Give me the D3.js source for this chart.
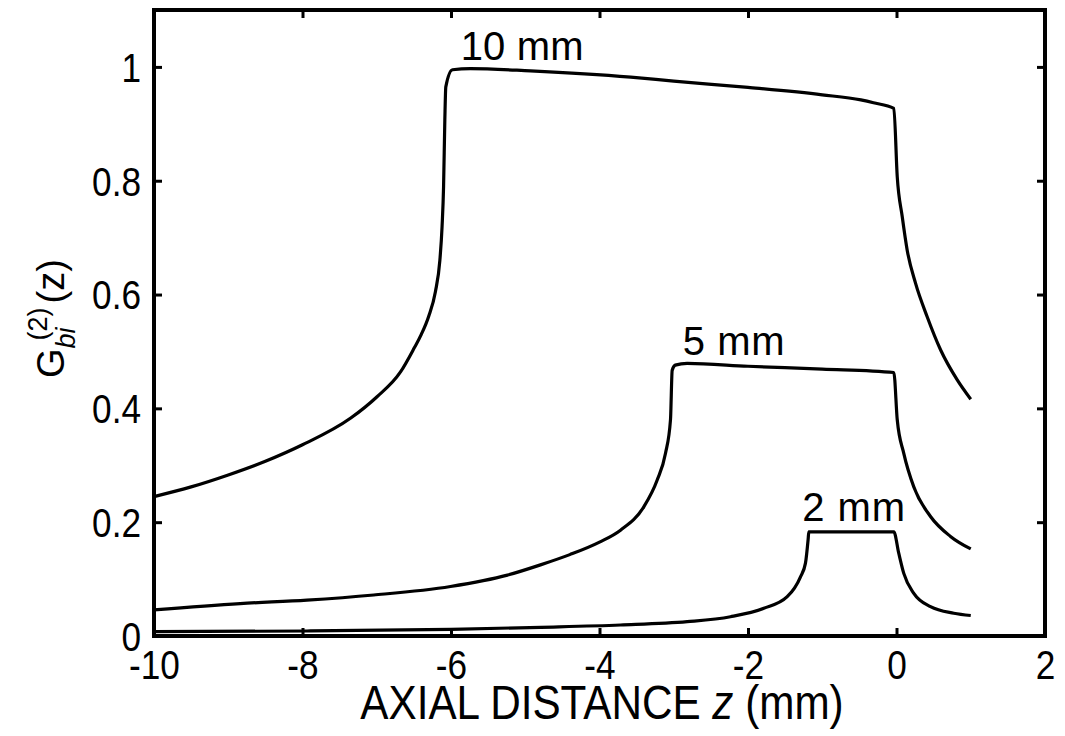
<!DOCTYPE html>
<html>
<head>
<meta charset="utf-8">
<script src="https://cdn.jsdelivr.net/npm/d3@7/dist/d3.min.js"></script>
<style>
  html, body { margin: 0; padding: 0; background: #fff; }
  svg { display: block; font-family: "Liberation Sans", Arial, Helvetica, sans-serif; }
</style>
</head>
<body>
<svg id="chart" width="1065" height="736"></svg>
<script>
// ---- data ----
const xTicks = [-10, -8, -6, -4, -2, 0, 2];
const xTickLabels = ["-10", "-8", "-6", "-4", "-2", "0", "2"];
const yTicks = [0, 0.2, 0.4, 0.6, 0.8, 1];
const yTickLabels = ["0", "0.2", "0.4", "0.6", "0.8", "1"];

const seriesNames = ["10 mm", "5 mm", "2 mm"];

const z10 = [-10, -9.5, -9, -8.5, -8.0, -7.35, -7.0, -6.68, -6.5, -6.4, -6.3, -6.21, -6.15, -6.12, -6.1, -6.083, -6.07, -5.98, -5.74, -4.93, -3.58, -3, -2, -1, -0.48, -0.31, -0.036, 0.01, 0.077, 0.144, 0.256, 0.413, 0.593, 0.818, 1.0];
const g10 = [0.245, 0.262, 0.283, 0.307, 0.336, 0.383, 0.420, 0.464, 0.505, 0.530, 0.562, 0.605, 0.660, 0.720, 0.790, 0.907, 0.965, 0.995, 0.997, 0.993, 0.982, 0.975, 0.964, 0.951, 0.942, 0.937, 0.927, 0.807, 0.737, 0.678, 0.620, 0.561, 0.503, 0.450, 0.416];

const z5 = [-10, -8.84, -7.94, -7.04, -6.007, -5.24, -4.795, -4.4, -4.0, -3.717, -3.403, -3.223, -3.111, -3.044, -3.021, -2.98, -2.82, -2, -1, -0.036, 0.01, 0.098, 0.233, 0.458, 0.727, 1.0];
const g5 = [0.046, 0.057, 0.063, 0.072, 0.087, 0.107, 0.125, 0.143, 0.165, 0.186, 0.227, 0.274, 0.321, 0.380, 0.467, 0.476, 0.479, 0.474, 0.469, 0.463, 0.380, 0.321, 0.262, 0.210, 0.175, 0.153];

const z2 = [-10, -7.94, -6.0, -4.79, -3.717, -2.819, -2.236, -1.787, -1.472, -1.293, -1.226, -1.19, -1.181, -0.036, 0.031, 0.098, 0.233, 0.458, 0.772, 1.0];
const g2 = [0.0076, 0.0088, 0.0117, 0.0153, 0.0193, 0.0251, 0.0339, 0.0487, 0.069, 0.104, 0.128, 0.170, 0.183, 0.183, 0.145, 0.110, 0.075, 0.0515, 0.040, 0.036];

// label anchor points (data coordinates) for series annotations
const labelZ = [-5.87, -2.88, -1.27];
const labelG = [1.013, 0.494, 0.2015];
const labelWidths = [123, 102, 103];

// ---- layout ----
const svg = d3.select("#chart");
const mLeft = 154, mRight = 1045, mTop = 10, mBottom = 636;
const x = d3.scaleLinear().domain([-10, 2]).range([mLeft, mRight]);
const y = d3.scaleLinear().domain([0, 1.1]).range([mBottom, mTop]);
const SX = 0.88; // horizontal glyph compression seen in reference

// lines
const line = d3.line().x(d => x(d[0])).y(d => y(d[1])).curve(d3.curveMonotoneX);
const series = [
  d3.zip(z10, g10),
  d3.zip(z5, g5),
  d3.zip(z2, g2)
];
svg.append("g").selectAll("path").data(series).join("path")
  .attr("d", line)
  .attr("fill", "none")
  .attr("stroke", "#000")
  .attr("stroke-width", 3.2)
  .attr("stroke-linejoin", "round");

// axes with inward ticks
const tickLen = 8;
const axB = svg.append("g").attr("transform", `translate(0,${mBottom})`)
  .call(d3.axisBottom(x).tickValues(xTicks).tickSize(-tickLen).tickPadding(0)
    .tickFormat((d, i) => xTickLabels[i]));
const axT = svg.append("g").attr("transform", `translate(0,${mTop})`)
  .call(d3.axisTop(x).tickValues(xTicks).tickSize(-tickLen).tickFormat(""));
const axL = svg.append("g").attr("transform", `translate(${mLeft},0)`)
  .call(d3.axisLeft(y).tickValues(yTicks).tickSize(-tickLen).tickPadding(0)
    .tickFormat((d, i) => yTickLabels[i]));
const axR = svg.append("g").attr("transform", `translate(${mRight},0)`)
  .call(d3.axisRight(y).tickValues(yTicks).tickSize(-tickLen).tickFormat(""));

[axB, axT, axL, axR].forEach(a => {
  a.select(".domain").remove();
  a.selectAll(".tick line").attr("stroke", "#000").attr("stroke-width", 3);
});
axB.selectAll(".tick text")
  .attr("font-size", 40).attr("fill", "#000")
  .attr("font-family", "Liberation Sans, Arial, sans-serif")
  .attr("y", 43).attr("dy", 0)
  .attr("transform", `scale(${SX},1)`);
axL.selectAll(".tick text")
  .attr("font-size", 40).attr("fill", "#000")
  .attr("font-family", "Liberation Sans, Arial, sans-serif")
  .attr("x", -13 / SX).attr("dy", "0.36em")
  .attr("transform", `scale(${SX},1)`);

// frame
svg.append("rect")
  .attr("x", mLeft).attr("y", mTop)
  .attr("width", mRight - mLeft).attr("height", mBottom - mTop)
  .attr("fill", "none").attr("stroke", "#000").attr("stroke-width", 4);

// x title
const xt = svg.append("text")
  .attr("transform", `translate(602,719) scale(${SX},1)`)
  .attr("text-anchor", "middle")
  .attr("font-size", 48).attr("fill", "#000");
xt.append("tspan").text("AXIAL DISTANCE ");
xt.append("tspan").attr("font-style", "italic").text("z");
xt.append("tspan").text(" (mm)");

// y title  G^(2)_bi (z)
const yt = svg.append("text")
  .attr("transform", `translate(64,378) rotate(-90)`)
  .attr("font-size", 38).attr("fill", "#000");
yt.append("tspan").text("G");
yt.append("tspan").attr("font-size", 27).attr("dy", 11).attr("font-style", "italic").text("bi");
yt.append("tspan").attr("font-size", 27).attr("dx", -13).attr("dy", -28).text("(2)");
yt.append("tspan").attr("dx", 4).attr("dy", 17).text("(z)");

// series annotations
svg.append("g").selectAll("text").data(seriesNames).join("text")
  .attr("x", (d, i) => x(labelZ[i]))
  .attr("y", (d, i) => y(labelG[i]))
  .attr("font-size", 40).attr("fill", "#000")
  .attr("textLength", (d, i) => labelWidths[i])
  .attr("lengthAdjust", "spacing")
  .text(d => d);
</script>
</body>
</html>
